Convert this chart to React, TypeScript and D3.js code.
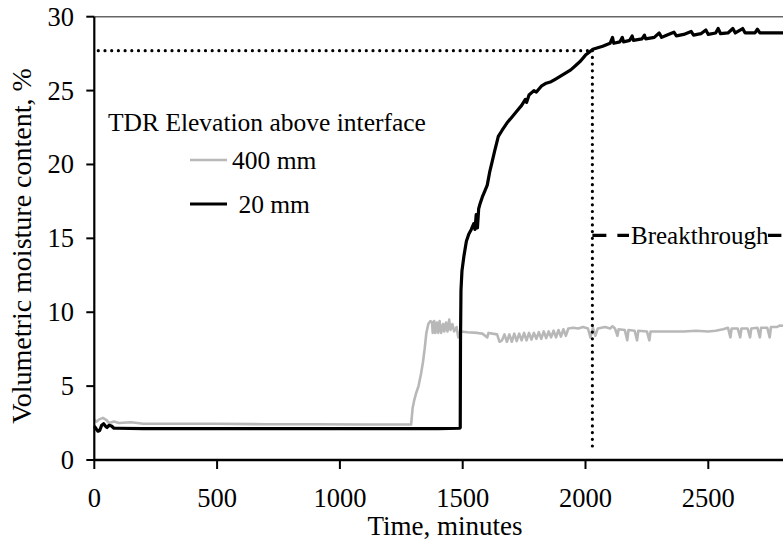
import React from "react";
import * as d3 from "d3";

const xTicks = [0, 500, 1000, 1500, 2000, 2500];
const yTicks = [0, 5, 10, 15, 20, 25, 30];

// 20 mm TDR (black)
const series20mm: [number, number][] = [
  [0, 2.3], [8, 2.1], [15, 1.95], [22, 2.0], [30, 2.35], [38, 2.45], [45, 2.3], [52, 2.2], [60, 2.35], [70, 2.3],
  [80, 2.15], [90, 2.15], [200, 2.12], [400, 2.12], [600, 2.12], [800, 2.12], [1000, 2.12], [1200, 2.12],
  [1400, 2.12], [1488, 2.15], [1490, 2.2], [1491, 8], [1493, 11.5], [1497, 12.8], [1505, 13.8], [1515, 14.8],
  [1525, 15.3], [1535, 15.6], [1545, 16.0], [1550, 15.6], [1555, 16.6], [1560, 15.7], [1565, 17.0], [1570, 17.3],
  [1580, 17.8], [1590, 18.2], [1600, 18.6], [1610, 19.5], [1620, 20.2], [1630, 20.9], [1645, 21.9], [1660, 22.3],
  [1680, 22.8], [1700, 23.2], [1720, 23.6], [1740, 24.0], [1755, 24.4], [1760, 24.2], [1770, 24.7], [1790, 25.0],
  [1800, 24.9], [1820, 25.3], [1840, 25.5], [1860, 25.6], [1880, 25.8], [1900, 26.0], [1920, 26.2], [1940, 26.4],
  [1960, 26.7], [1980, 27.0], [2000, 27.4], [2015, 27.6], [2030, 27.8], [2050, 27.9], [2070, 28.0], [2100, 28.2],
  [2110, 28.6], [2115, 28.2], [2140, 28.3], [2150, 28.6], [2155, 28.3], [2180, 28.4], [2190, 28.7], [2195, 28.4],
  [2230, 28.5], [2240, 28.75], [2245, 28.5], [2280, 28.6], [2300, 28.9], [2310, 28.6], [2330, 28.75], [2360, 28.95],
  [2370, 28.7], [2400, 28.8], [2430, 29.0], [2440, 28.75], [2470, 28.85], [2490, 29.1], [2500, 28.8], [2530, 28.9],
  [2540, 29.2], [2550, 28.85], [2580, 28.9], [2600, 29.2], [2610, 28.9], [2640, 29.2], [2650, 28.9], [2690, 28.9],
  [2700, 29.15], [2710, 28.9], [2750, 28.9], [2800, 28.9], [2900, 28.9],
];

// 400 mm TDR (grey)
const series400mm: [number, number][] = [
  [0, 2.7], [10, 2.6], [20, 2.75], [35, 2.85], [50, 2.7], [60, 2.5], [80, 2.6], [100, 2.5], [150, 2.55], [200, 2.45],
  [300, 2.45], [500, 2.45], [700, 2.42], [900, 2.42], [1100, 2.4], [1250, 2.4], [1290, 2.4], [1296, 3.5], [1302, 4.0],
  [1310, 4.5], [1320, 5.0], [1330, 5.8], [1338, 6.6], [1345, 7.5], [1352, 8.6], [1360, 9.2], [1368, 9.4], [1375, 9.35],
  [1378, 8.6], [1384, 9.4], [1388, 8.6], [1395, 9.3], [1400, 8.6], [1406, 9.4], [1412, 8.6], [1420, 9.2], [1425, 8.7],
  [1432, 9.3], [1438, 8.7], [1445, 9.5], [1450, 8.8], [1458, 9.2], [1465, 8.7], [1475, 9.0], [1482, 8.3], [1490, 8.7],
  [1520, 8.65], [1560, 8.6], [1580, 8.55], [1600, 8.3], [1605, 8.6], [1640, 8.5], [1650, 8.0], [1660, 8.1],
  [1670, 8.5], [1680, 8.0], [1690, 8.5], [1700, 8.0], [1710, 8.55], [1720, 8.05], [1730, 8.55], [1740, 8.1],
  [1750, 8.6], [1760, 8.1], [1770, 8.6], [1780, 8.15], [1790, 8.6], [1800, 8.2], [1810, 8.65], [1820, 8.2],
  [1830, 8.7], [1840, 8.25], [1850, 8.7], [1860, 8.3], [1870, 8.75], [1880, 8.3], [1890, 8.8], [1900, 8.35],
  [1910, 8.85], [1920, 8.4], [1930, 8.9], [1950, 8.95], [1970, 8.9], [1990, 9.0], [2010, 8.9], [2020, 8.3],
  [2030, 8.95], [2040, 8.4], [2050, 8.9], [2080, 9.0], [2100, 8.9], [2110, 9.05], [2120, 8.9], [2130, 8.4],
  [2135, 8.85], [2160, 8.8], [2170, 8.1], [2175, 8.8], [2200, 8.75], [2210, 8.1], [2215, 8.75], [2250, 8.7],
  [2260, 8.1], [2265, 8.7], [2300, 8.7], [2400, 8.7], [2450, 8.75], [2500, 8.7], [2530, 8.75], [2560, 8.85],
  [2580, 8.95], [2590, 8.3], [2595, 8.9], [2620, 8.9], [2630, 8.3], [2635, 8.9], [2660, 8.9], [2670, 8.3],
  [2675, 8.9], [2700, 8.95], [2710, 8.3], [2715, 8.95], [2740, 8.95], [2750, 8.3], [2755, 9.0], [2780, 9.0],
  [2790, 9.1], [2900, 9.0],
];

const breakthroughTime = 2028;
const breakthroughValue = 27.7;
const breakthroughLabelValue = 15.2;
const breakthroughEnd = 2950;

const legendTitle = "TDR Elevation above interface";
const legendLabels = ["400 mm", " 20 mm"];

export default function App() {
  const W = 783, H = 546;
  const x = d3.scaleLinear().domain([0, 3000]).range([94.3, 94.3 + 122.8 * 6]);
  const y = d3.scaleLinear().domain([0, 30]).range([460, 16.7]);
  const line = d3.line<[number, number]>().x(d => x(d[0])).y(d => y(d[1]));
  const font = "'Liberation Serif', 'Times New Roman', serif";
  const bx = x(breakthroughTime);
  const by = y(breakthroughLabelValue);

  return (
    <svg width={W} height={H} style={{ position: "absolute", left: 0, top: 0, background: "#fff" }}
      fontFamily={font} fontSize={25}>
      <rect x={0} y={0} width={W} height={H} fill="#fff" />
      {/* top border */}
      <line x1={x(0)} x2={W} y1={y(30)} y2={y(30)} stroke="#666" strokeWidth={1.5} />
      {/* series */}
      <path d={line(series400mm) || ""} fill="none" stroke="#b8b8b8" strokeWidth={2.6} strokeLinejoin="round" />
      <path d={line(series20mm) || ""} fill="none" stroke="#000" strokeWidth={3.2} strokeLinejoin="round" />
      {/* dotted breakthrough guides */}
      <line x1={x(0) + 4} x2={bx} y1={y(breakthroughValue)} y2={y(breakthroughValue)} stroke="#000"
        strokeWidth={3.2} strokeDasharray="0,6.7" strokeLinecap="round" />
      <line x1={bx} x2={bx} y1={y(breakthroughValue)} y2={y(0.5)} stroke="#000"
        strokeWidth={3.2} strokeDasharray="0,6.7" strokeLinecap="round" />
      {/* breakthrough dashed arrow */}
      <line x1={bx} x2={x(breakthroughEnd)} y1={by} y2={by} stroke="#000" strokeWidth={3.2}
        strokeDasharray="14,11" />
      <rect x={629} y={by - 16} width={139} height={32} fill="#fff" />
      <text x={631} y={by + 8.5} fill="#000" fontSize={25}>Breakthrough</text>
      {/* axes */}
      <line x1={x(0)} x2={x(0)} y1={y(30)} y2={y(0)} stroke="#000" strokeWidth={2.2} />
      <line x1={x(0)} x2={W} y1={y(0)} y2={y(0)} stroke="#000" strokeWidth={2.4} />
      {yTicks.map(t => (
        <g key={"y" + t}>
          <line x1={x(0) - 8} x2={x(0)} y1={y(t)} y2={y(t)} stroke="#000" strokeWidth={2} />
          <text x={74} y={y(t) + 9} textAnchor="end" fill="#000" fontSize={26.5}>{t}</text>
        </g>
      ))}
      {xTicks.map(t => (
        <g key={"x" + t}>
          <line x1={x(t)} x2={x(t)} y1={y(0)} y2={y(0) + 9} stroke="#000" strokeWidth={2} />
          <text x={x(t)} y={506.5} textAnchor="middle" fill="#000" fontSize={26.5}>{t}</text>
        </g>
      ))}
      <text x={445} y={535} textAnchor="middle" fill="#000" fontSize={27}>Time, minutes</text>
      <text transform={`translate(31,246) rotate(-90)`} textAnchor="middle" fill="#000" fontSize={28}>
        Volumetric moisture content, %
      </text>
      {/* legend */}
      <text x={108} y={131} fill="#000" fontSize={25.5}>{legendTitle}</text>
      <line x1={190} x2={227} y1={160} y2={160} stroke="#b8b8b8" strokeWidth={2.6} />
      <text x={232} y={168.5} fill="#000" fontSize={25.5}>{legendLabels[0]}</text>
      <line x1={190} x2={227} y1={204} y2={204} stroke="#000" strokeWidth={3.2} />
      <text x={232} y={212.5} fill="#000" fontSize={25.5} style={{ whiteSpace: "pre" }}>{legendLabels[1]}</text>
    </svg>
  );
}
